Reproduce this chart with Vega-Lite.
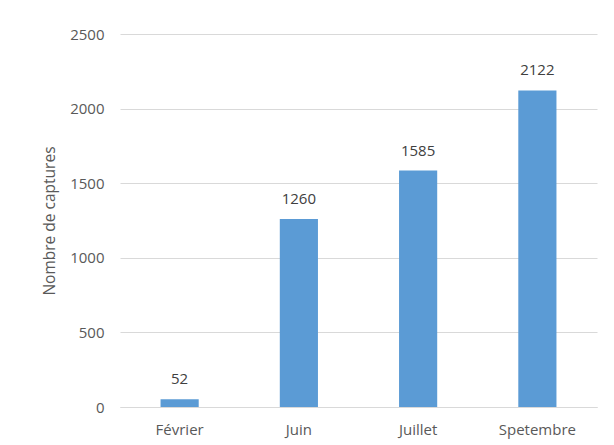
{
  "$schema": "https://vega.github.io/schema/vega-lite/v6.json",
  "autosize": "none",
  "width": 477,
  "height": 373,
  "padding": {"left": 120, "top": 34, "right": 17, "bottom": 38},
  "background": "white",
  "config": {
    "view": {"stroke": null},
    "font": "Open Sans",
    "axis": {"labelColor": "#595959", "titleColor": "#595959", "labelFontSize": 15, "titleFontSize": 15.5, "titleFontWeight": "normal", "labelFont": "Open Sans", "titleFont": "Open Sans"}
  },
  "data": {
    "values": [
      {"mois": "Février", "captures": 52},
      {"mois": "Juin", "captures": 1260},
      {"mois": "Juillet", "captures": 1585},
      {"mois": "Spetembre", "captures": 2122}
    ]
  },
  "encoding": {
    "x": {
      "field": "mois", "type": "nominal", "sort": null,
      "scale": {"paddingInner": 0.68, "paddingOuter": 0.34},
      "axis": {"title": null, "labelAngle": 0, "ticks": false, "domainColor": "#D9D9D9", "domainWidth": 1, "labelPadding": 15, "grid": false}
    },
    "y": {
      "field": "captures", "type": "quantitative",
      "scale": {"domain": [0, 2500]},
      "axis": {"title": "Nombre de captures", "values": [0, 500, 1000, 1500, 2000, 2500], "format": "d", "ticks": false, "domain": false, "gridColor": "#D9D9D9", "labelPadding": 16, "titlePadding": 12}
    }
  },
  "layer": [
    {"mark": {"type": "bar", "color": "#5B9BD5"}},
    {"mark": {"type": "text", "baseline": "bottom", "dy": -12, "fontSize": 15, "color": "#404040", "font": "Open Sans"}, "encoding": {"text": {"field": "captures", "type": "quantitative", "format": "d"}}}
  ]
}
